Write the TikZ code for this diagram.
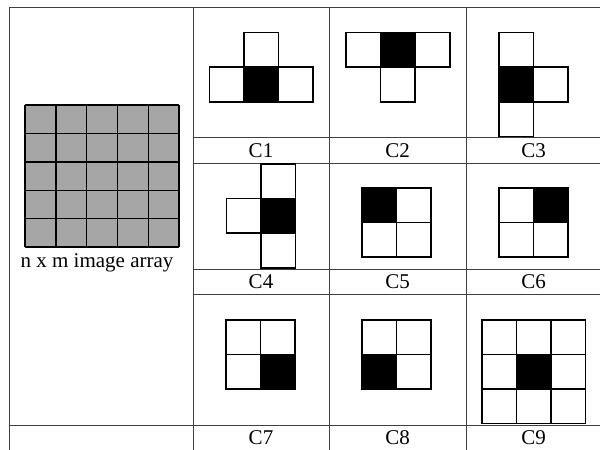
\documentclass[tikz,border=0pt]{standalone}
\usepackage{fontspec}
\setmainfont{Liberation Serif}
\tikzset{
  tabline/.style={draw=black!75, line width=1pt},
  cellline/.style={draw=black, line width=1.6pt},
  gridline/.style={draw=black, line width=1.4pt},
  lab/.style={inner sep=0pt, font=\fontsize{21}{24}\selectfont},
}
\newcommand\pcell[3]{\draw[cellline, fill=#3] (#1,#2) rectangle ++(34.6,34.6);}
\begin{document}
\begin{tikzpicture}[x=1pt,y=-1pt]
\useasboundingbox (0,0) rectangle (600,450);
% table lines
\draw[tabline] (9,7) -- (600,7);
\draw[tabline] (9,425) -- (600,425);
\foreach \x in {9,193,329,466} \draw[tabline] (\x,7) -- (\x,450);
\foreach \y in {137,163,269,294} \draw[tabline] (193,\y) -- (600,\y);
% image array
\fill[black!35] (25,105) rectangle (179,247);
\foreach \i in {0,...,5} {
  \draw[gridline] (25+30.8*\i,105) -- (25+30.8*\i,247);
  \draw[gridline] (25,105+28.4*\i) -- (179,105+28.4*\i);
}
\node[lab, anchor=base] (arr) at (97,267) {n x m image array};
% C1
\pcell{244}{32.5}{white}
\pcell{209.4}{67.1}{white}\pcell{244}{67.1}{black}\pcell{278.6}{67.1}{white}
% C2
\pcell{346}{32.5}{white}\pcell{380.6}{32.5}{black}\pcell{415.2}{32.5}{white}
\pcell{380.6}{67.1}{white}
% C3
\pcell{499}{32.5}{white}
\pcell{499}{67.1}{black}\pcell{533.6}{67.1}{white}
\pcell{499}{101.7}{white}
% C4
\pcell{261}{164}{white}
\pcell{226.4}{198.6}{white}\pcell{261}{198.6}{black}
\pcell{261}{233.2}{white}
% C5
\pcell{362}{188}{black}\pcell{396.6}{188}{white}
\pcell{362}{222.6}{white}\pcell{396.6}{222.6}{white}
% C6
\pcell{499}{188}{white}\pcell{533.6}{188}{black}
\pcell{499}{222.6}{white}\pcell{533.6}{222.6}{white}
% C7
\pcell{226}{320}{white}\pcell{260.6}{320}{white}
\pcell{226}{354.6}{white}\pcell{260.6}{354.6}{black}
% C8
\pcell{362}{320}{white}\pcell{396.6}{320}{white}
\pcell{362}{354.6}{black}\pcell{396.6}{354.6}{white}
% C9
\foreach \i in {0,1,2} \foreach \j in {0,1,2} {
  \pcell{482+34.4*\i}{320+34.4*\j}{white}
}
\pcell{516.4}{354.4}{black}
% labels
\node[lab] (c1) at (261,150.5) {C1};
\node[lab] (c2) at (397.5,150.5) {C2};
\node[lab] (c3) at (533.5,150.5) {C3};
\node[lab] (c4) at (261,282) {C4};
\node[lab] (c5) at (397.5,282) {C5};
\node[lab] (c6) at (533.5,282) {C6};
\node[lab] (c7) at (261,437.5) {C7};
\node[lab] (c8) at (397.5,437.5) {C8};
\node[lab] (c9) at (533.5,437.5) {C9};
\end{tikzpicture}
\end{document}
